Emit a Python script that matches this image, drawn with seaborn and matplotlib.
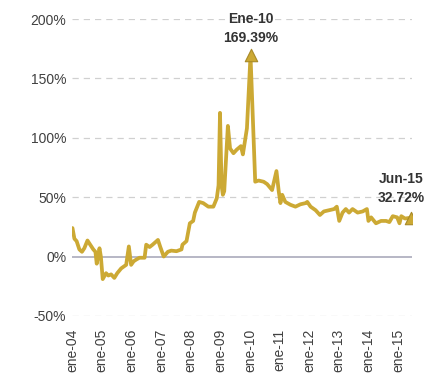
import matplotlib
matplotlib.use("Agg")
import matplotlib.pyplot as plt
import pandas as pd
import seaborn as sns

# Observation dates and returns (%)
dates = [
    "2004-01-05", "2004-01-29", "2004-02-25", "2004-03-30", "2004-05-01", "2004-05-30",
    "2004-07-08", "2004-08-20", "2004-09-18", "2004-10-14", "2004-10-30", "2004-12-03",
    "2004-12-20", "2005-01-12", "2005-02-22", "2005-03-22", "2005-04-25", "2005-06-04",
    "2005-07-10", "2005-08-27", "2005-10-07", "2005-10-28", "2005-11-30", "2005-12-28",
    "2006-01-28", "2006-03-02", "2006-04-10", "2006-06-12", "2006-07-02", "2006-08-13",
    "2006-09-19", "2006-11-24", "2006-12-23", "2007-02-03", "2007-03-26", "2007-05-07",
    "2007-07-10", "2007-09-10", "2007-09-22", "2007-11-11", "2007-12-22", "2008-02-01",
    "2008-02-22", "2008-04-15", "2008-06-04", "2008-08-06", "2008-10-07", "2008-11-18",
    "2008-12-10", "2008-12-28", "2009-01-16", "2009-02-01", "2009-02-18", "2009-04-04",
    "2009-05-01", "2009-06-12", "2009-07-22", "2009-09-12", "2009-10-06", "2009-11-25",
    "2010-01-08", "2010-03-07", "2010-04-17", "2010-06-19", "2010-08-01", "2010-10-01",
    "2010-11-24", "2010-12-22", "2011-01-12", "2011-02-03", "2011-03-13", "2011-05-15",
    "2011-07-16", "2011-09-16", "2011-11-18", "2011-12-09", "2012-01-19", "2012-03-21",
    "2012-05-13", "2012-07-01", "2012-09-02", "2012-11-04", "2012-12-07", "2013-01-06",
    "2013-02-16", "2013-03-28", "2013-05-07", "2013-06-19", "2013-08-21", "2013-10-22",
    "2013-12-13", "2014-01-01", "2014-02-03", "2014-04-04", "2014-06-06", "2014-08-07",
    "2014-09-16", "2014-10-28", "2014-12-21", "2015-01-19", "2015-02-10", "2015-03-28",
    "2015-06-12",
]
returns = [
    24, 15, 13, 6, 4, 7,
    13.5, 9, 6, 4, -6, 7,
    0, -19, -14, -16, -15, -18,
    -14, -10, -8, -7, 8.5, -7,
    -4, -2.5, -1, -1, 10, 8,
    10, 14, 8, 0, 4, 5,
    4.5, 6, 10, 13, 28, 30,
    37, 46, 45, 42, 42, 49,
    60, 121, 60, 52, 55, 110,
    91, 87, 90, 93, 86, 108,
    169.39, 63, 64, 63, 61, 56,
    72, 55, 45, 52, 46, 43.6,
    42, 44, 45, 46, 42, 39,
    35, 38, 39, 40, 42, 30,
    37, 40, 37, 40, 37, 38,
    40, 30, 33, 28, 30, 30,
    29, 34, 33, 28, 34, 32,
    32.72,
]

tick_years = list(range(2004, 2016))
tick_labels = ["ene-04", "ene-05", "ene-06", "ene-07", "ene-08", "ene-09",
               "ene-10", "ene-11", "ene-12", "ene-13", "ene-14", "ene-15"]
y_ticks = [-50, 0, 50, 100, 150, 200]

peak_label = "Ene-10"
last_label = "Jun-15"

df = pd.DataFrame({"fecha": pd.to_datetime(dates), "rend": returns})

sns.set_style("white")
plt.rcParams["font.family"] = ["Liberation Sans", "DejaVu Sans"]

gold = "#CCA934"
edge = "#A88A28"
text_col = "#333333"

fig = plt.figure(figsize=(4.25, 3.73), dpi=100)
ax = fig.add_axes([0.169, 0.153, 0.80, 0.796])

sns.lineplot(data=df, x="fecha", y="rend", ax=ax, color=gold, linewidth=2.7, zorder=3)

# Horizontal guides
for v in y_ticks:
    if v == 0:
        ax.axhline(v, color="#A3A3B5", linewidth=1.1, zorder=2)
    else:
        ax.axhline(v, color="#D0D0D0", linewidth=0.9, linestyle=(0, (5, 4)), zorder=1)

# Highlighted points
i_peak = int(df["rend"].idxmax())
i_last = len(df) - 1
for i in (i_peak, i_last):
    ax.scatter(df["fecha"].iloc[i], df["rend"].iloc[i], marker="^", s=80,
               color=gold, edgecolor=edge, linewidth=0.8, zorder=4)

ax.annotate(f"{peak_label}\n{df['rend'].iloc[i_peak]:.2f}%",
            xy=(df["fecha"].iloc[i_peak], df["rend"].iloc[i_peak]),
            xytext=(0, 10), textcoords="offset pixels", ha="center", va="bottom",
            fontsize=10, fontweight="bold", color=text_col, linespacing=1.45,
            annotation_clip=False)
ax.annotate(f"{last_label}\n{df['rend'].iloc[i_last]:.2f}%",
            xy=(df["fecha"].iloc[i_last], df["rend"].iloc[i_last]),
            xytext=(-10, 13), textcoords="offset pixels", ha="center", va="bottom",
            fontsize=10, fontweight="bold", color=text_col, linespacing=1.45,
            annotation_clip=False)

ax.set_ylim(-50, 200)
ax.set_yticks(y_ticks)
ax.set_yticklabels([f"{v}%" for v in y_ticks])
ax.set_xlim(pd.Timestamp("2003-12-28"), pd.Timestamp("2015-06-20"))
ax.set_xticks([pd.Timestamp(f"{y}-01-01") for y in tick_years])
ax.set_xticklabels(tick_labels, rotation=90)

ax.tick_params(axis="y", length=0, labelsize=10, labelcolor="#404040", pad=4)
ax.tick_params(axis="x", length=0, labelsize=10, labelcolor="#404040", pad=9)
ax.set_xlabel("")
ax.set_ylabel("")
for s in ax.spines.values():
    s.set_visible(False)
ax.grid(False)

fig.savefig("out.png", dpi=100)
